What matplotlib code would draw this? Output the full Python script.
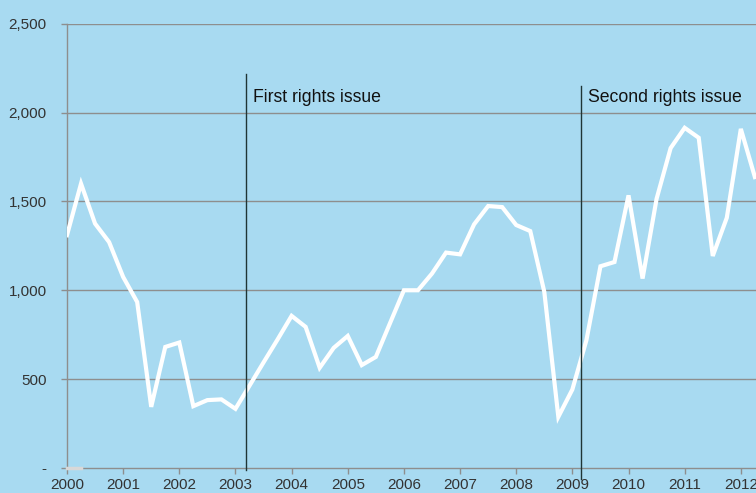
import matplotlib.pyplot as plt
import numpy as np

plt.rcParams['font.family'] = ['Liberation Sans', 'DejaVu Sans']

# quarterly readings, 2000 Q1 .. 2012 Q2
start_year = 2000
values = [1310, 1600, 1375, 1271, 1075, 934, 344, 681, 706, 348, 382, 386,
          333, 463, 594, 723,
          856, 794, 564, 676, 743, 579, 625, 813, 1000, 1000, 1094, 1212,
          1202, 1371, 1474, 1468, 1367, 1333, 991, 288, 442, 719, 1135, 1159,
          1534, 1066, 1515, 1800, 1914, 1858, 1193, 1408, 1908, 1637]
years = list(range(2000, 2013))
y_ticks = [0, 500, 1000, 1500, 2000, 2500]
y_labels = ['-', '500', '1,000', '1,500', '2,000', '2,500']

events = [(2003.19, 2219, -10, 'First rights issue'),
          (2009.15, 2152, -60, 'Second rights issue')]

bg = '#A8DAF1'
grid_c = '#8E8E8E'
text_c = '#333333'

x = start_year + np.arange(len(values)) * 0.25

fig = plt.figure(figsize=(7.56, 4.93), dpi=100, facecolor=bg)
ax = fig.add_axes([0.0886, 0.0507, 1 - 0.0886, 0.952 - 0.0507])
ax.set_facecolor(bg)

ax.set_xlim(2000, 2012.27)
ax.set_ylim(0, 2500)

for yv in y_ticks[1:]:
    ax.axhline(yv, color=grid_c, lw=1.0, zorder=1)

# little stub series at zero
ax.plot([2000, 2000.25], [0, 0], color='#D8D8D8', lw=2.5, zorder=3, clip_on=False)

ax.plot(x, values, color='white', lw=3, zorder=4, solid_joinstyle='miter')

for xe, top, bottom, label in events:
    ax.plot([xe, xe], [bottom, top], color='#1F3535', lw=1.0, zorder=5, clip_on=False)
    ax.text(xe + 0.12, 2000 + 35, label, fontsize=12.7, color='#111111',
            ha='left', va='bottom', zorder=6)

ax.set_xticks(years)
ax.set_xticklabels([str(y) for y in years])
ax.set_yticks(y_ticks)
ax.set_yticklabels(y_labels)

for s in ['top', 'right']:
    ax.spines[s].set_visible(False)
for s in ['left', 'bottom']:
    ax.spines[s].set_color(grid_c)
    ax.spines[s].set_linewidth(1.0)

ax.tick_params(axis='both', colors=grid_c, labelcolor=text_c, labelsize=11,
               length=4, width=1.0)
ax.tick_params(axis='y', pad=10.5)
ax.tick_params(axis='x', pad=3.5)

fig.savefig('out.png', dpi=100, facecolor=bg)
